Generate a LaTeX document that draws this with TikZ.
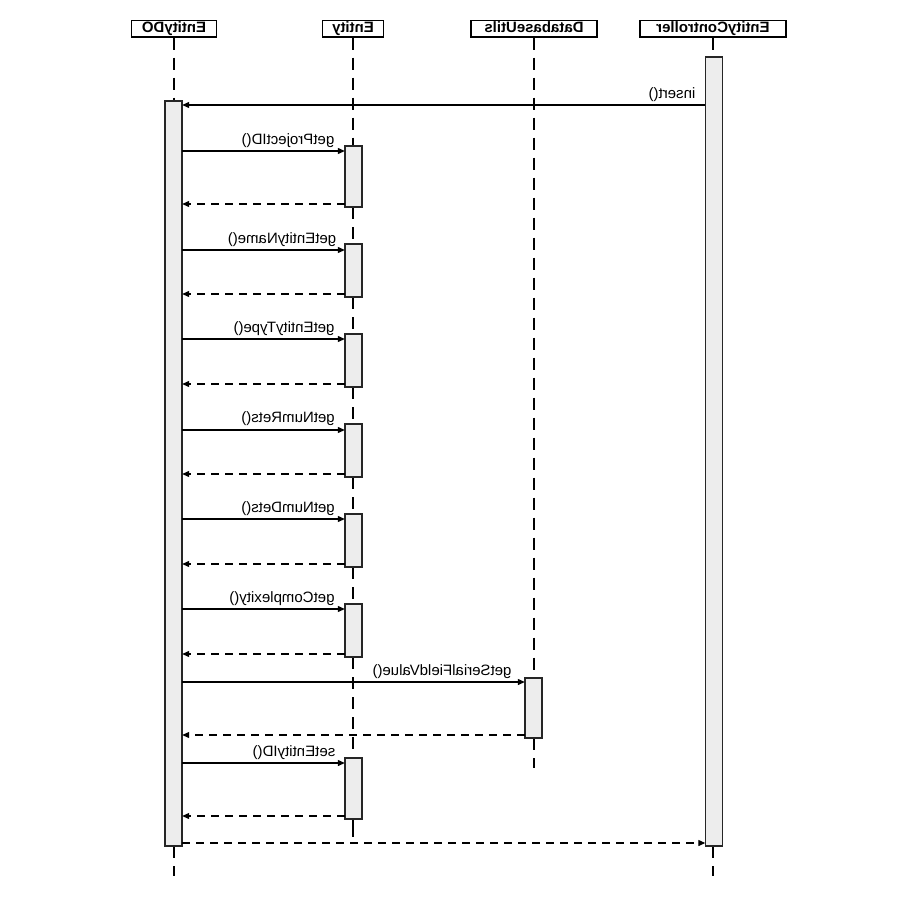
\documentclass[tikz,border=0pt]{standalone}
\usepackage{fontspec}
\setmainfont{Liberation Sans}
\usetikzlibrary{arrows.meta}
\begin{document}
\begin{tikzpicture}[x=1pt,y=-1pt,
  hdr/.style={draw,line width=1.5pt,inner sep=0pt,text height=12.5pt,text depth=4pt,font=\bfseries\fontsize{15}{15}\selectfont,xscale=-1},
  life/.style={line width=2.3pt,dash pattern=on 12pt off 8pt},
  act/.style={draw=black!85,fill=black!7,line width=1.5pt},
  actpos/.style={minimum width=17pt,inner sep=0pt},
  msg/.style={line width=1.2pt,-{Triangle[length=7pt,width=6pt]}},
  ret/.style={msg,dash pattern=on 8pt off 6pt},
  lbl/.style={font=\fontsize{15}{15}\selectfont,xscale=-1,anchor=base,inner sep=0pt}]
\useasboundingbox (0,0) rectangle (900,900);
% headers
\node[hdr,minimum width=85pt] (hDO) at (174,28.5) {EntityDO};
\node[hdr,minimum width=61pt] (hE) at (353,28.5) {Entity};
\node[hdr,minimum width=126pt] (hDU) at (534,28.5) {DatabaseUtils};
\node[hdr,minimum width=146pt] (hEC) at (713,28.5) {EntityController};
% lifeline ends
\coordinate (eDO) at (174,876);
\coordinate (eE) at (353,837);
\coordinate (eDU) at (534,768);
\coordinate (eEC) at (713,876);
% activations (positions)
\path
  node[actpos,minimum height=745pt] (aDO) at (173.5,473.5) {}
  node[actpos,minimum height=789pt] (aEC) at (714,451.5) {}
  node[actpos,minimum height=61pt] (a1) at (353.5,176.5) {}
  node[actpos,minimum height=53pt] (a2) at (353.5,270.5) {}
  node[actpos,minimum height=53pt] (a3) at (353.5,360.5) {}
  node[actpos,minimum height=53pt] (a4) at (353.5,450.5) {}
  node[actpos,minimum height=53pt] (a5) at (353.5,540.5) {}
  node[actpos,minimum height=53pt] (a6) at (353.5,630.5) {}
  node[actpos,minimum height=60pt] (aDU) at (533.5,708) {}
  node[actpos,minimum height=61pt] (a7) at (353.5,788.5) {};
% lifelines
\draw[life] (hDO.south) -- (hDO.south |- aDO.north);
\draw[life] (hDO.south |- aDO.south) -- (eDO);
\draw[life] (hEC.south) -- (hEC.south |- aEC.north);
\draw[life] (hEC.south |- aEC.south) -- (eEC);
\draw[life] (hDU.south) -- (hDU.south |- aDU.north);
\draw[life] (hDU.south |- aDU.south) -- (eDU);
\draw[life] (hE.south) -- (hE.south |- a1.north);
\draw[life] (hE.south |- a1.south) -- (hE.south |- a2.north);
\draw[life] (hE.south |- a2.south) -- (hE.south |- a3.north);
\draw[life] (hE.south |- a3.south) -- (hE.south |- a4.north);
\draw[life] (hE.south |- a4.south) -- (hE.south |- a5.north);
\draw[life] (hE.south |- a5.south) -- (hE.south |- a6.north);
\draw[life] (hE.south |- a6.south) -- (hE.south |- a7.north);
\draw[life,dash pattern=on 18pt off 4pt] (hE.south |- a7.south) -- (eE);
% activation boxes
\foreach \n in {aDO,aEC,a1,a2,a3,a4,a5,a6,aDU,a7}
  \draw[act] (\n.north west) rectangle (\n.south east);
% messages
\draw[msg] (aEC.west |- 0,105) -- (aDO.east |- 0,105);
\node[lbl] (l0) at (672,98) {insert()};
\draw[msg] (aDO.east |- 0,151) -- (a1.west |- 0,151);
\draw[ret] (a1.west |- 0,204) -- (aDO.east |- 0,204);
\node[lbl] (l1) at (288,144) {getProjectID()};
\draw[msg] (aDO.east |- 0,250) -- (a2.west |- 0,250);
\draw[ret] (a2.west |- 0,294) -- (aDO.east |- 0,294);
\node[lbl] (l2) at (282,243) {getEntityName()};
\draw[msg] (aDO.east |- 0,339) -- (a3.west |- 0,339);
\draw[ret] (a3.west |- 0,384) -- (aDO.east |- 0,384);
\node[lbl] (l3) at (284,332) {getEntityType()};
\draw[msg] (aDO.east |- 0,430) -- (a4.west |- 0,430);
\draw[ret] (a4.west |- 0,474) -- (aDO.east |- 0,474);
\node[lbl] (l4) at (288,422) {getNumRets()};
\draw[msg] (aDO.east |- 0,519) -- (a5.west |- 0,519);
\draw[ret] (a5.west |- 0,564) -- (aDO.east |- 0,564);
\node[lbl] (l5) at (288,512) {getNumDets()};
\draw[msg] (aDO.east |- 0,609) -- (a6.west |- 0,609);
\draw[ret] (a6.west |- 0,654) -- (aDO.east |- 0,654);
\node[lbl] (l6) at (282,602) {getComplexity()};
\draw[msg] (aDO.east |- 0,682) -- (aDU.west |- 0,682);
\draw[ret] (aDU.west |- 0,735) -- (aDO.east |- 0,735);
\node[lbl] (l7) at (442,675) {getSerialFieldValue()};
\draw[msg] (aDO.east |- 0,763) -- (a7.west |- 0,763);
\draw[ret] (a7.west |- 0,816) -- (aDO.east |- 0,816);
\node[lbl] (l8) at (294,756) {setEntityID()};
\draw[ret] (aDO.east |- 0,843) -- (aEC.west |- 0,843);
\end{tikzpicture}
\end{document}
